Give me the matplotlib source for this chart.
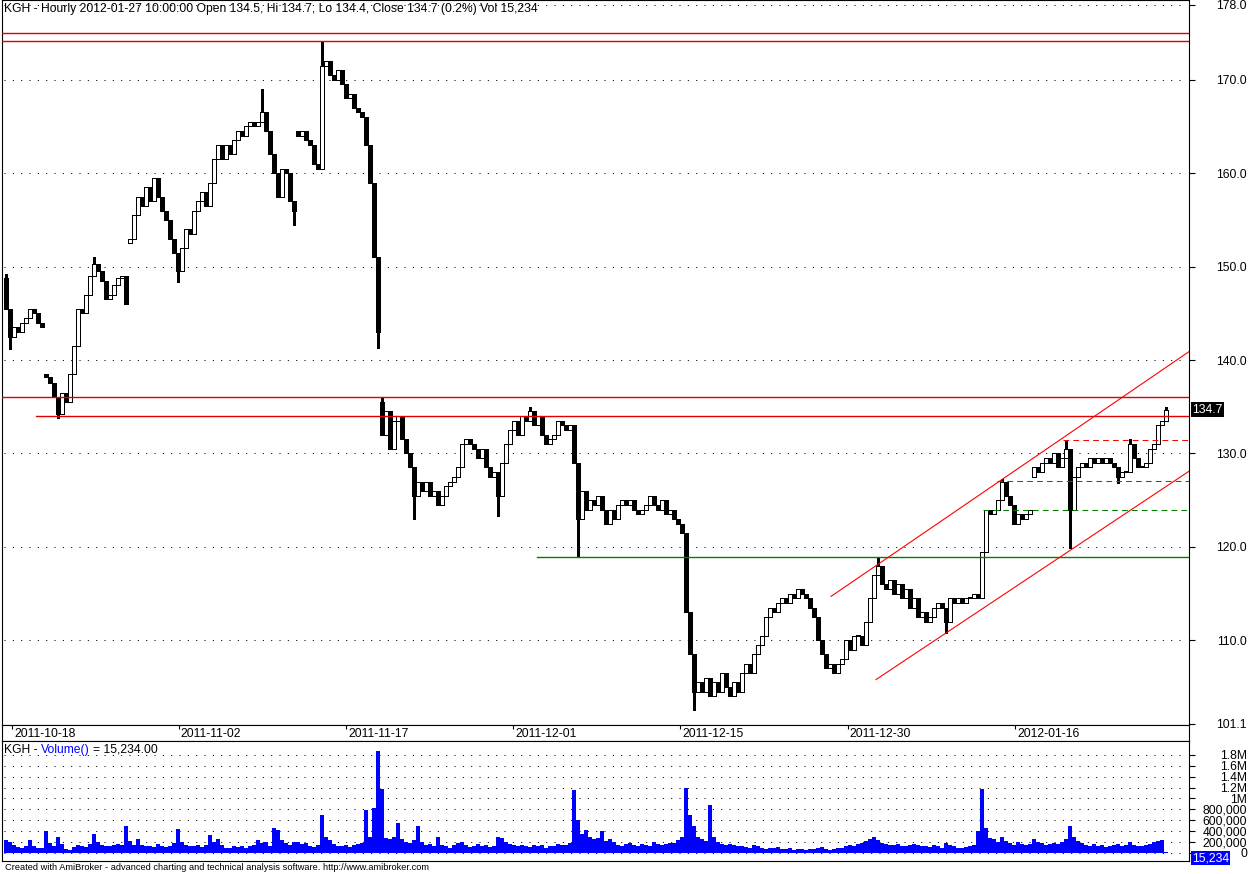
import numpy as np
import matplotlib
matplotlib.use("Agg")
import matplotlib.pyplot as plt
import matplotlib.transforms as mtransforms

plt.rcParams['font.family'] = ['Liberation Sans', 'DejaVu Sans']

# price closes, one candle per ~2 hourly bars (KGH, 2011-10-18 .. 2012-01-27)
closes = [
    145.5, 142.5, 143.5, 143.0, 144.0, 144.5, 145.5, 145.0, 144.0, 143.5,
    138.2, 137.5, 136.0, 134.2, 136.5, 135.5, 138.5, 141.5, 145.5, 145.0,
    147.0, 149.0, 150.3, 149.5, 148.5, 146.5, 147.0, 148.0, 148.8, 149.0,
    146.0, 153.0, 155.5, 157.5, 156.5, 158.5, 157.0, 159.5, 157.5, 156.0,
    155.0, 153.0, 151.5, 149.5, 152.0, 154.0, 153.5, 156.0, 157.0, 158.0,
    156.5, 159.0, 161.5, 163.0, 161.5, 163.0, 162.0, 163.5, 164.5, 164.0,
    165.0, 165.5, 165.0, 165.5, 166.5, 164.5, 162.0, 160.0, 157.5, 160.5,
    160.0, 157.0, 156.0, 164.0, 164.5, 163.5, 163.0, 161.0, 160.5, 171.5,
    172.0, 170.5, 170.0, 171.0, 169.5, 168.0, 168.5, 167.0, 166.5, 166.0,
    163.0, 159.0, 151.0, 143.0, 132.0, 134.5, 130.5, 133.5, 134.0, 131.5,
    130.0, 128.5, 125.5, 127.0, 126.0, 127.0, 125.5, 126.0, 124.5, 125.5,
    126.5, 127.0, 127.5, 128.5, 131.0, 131.5, 131.0, 130.5, 129.5, 130.5,
    128.5, 127.5, 128.0, 125.5, 129.0, 131.0, 132.5, 133.5, 132.0, 134.0,
    133.5, 134.5, 133.0, 134.0, 132.0, 131.0, 131.5, 132.0, 133.5, 133.0,
    132.5, 133.0, 129.0, 123.0, 126.0, 124.0, 125.0, 124.5, 125.5, 124.0,
    122.5, 124.0, 123.0, 124.5, 125.0, 124.5, 125.0, 124.0, 123.5, 124.0,
    124.5, 125.5, 124.5, 124.0, 125.0, 123.5, 124.0, 123.0, 122.5, 121.5,
    113.0, 108.5, 104.5, 105.5, 104.5, 106.0, 104.0, 105.5, 104.5, 106.5,
    105.0, 104.0, 105.5, 104.5, 106.5, 107.5, 106.5, 108.5, 109.5, 110.5,
    112.5, 113.5, 113.0, 114.0, 114.5, 114.0, 115.0, 114.5, 115.5, 115.0,
    114.5, 113.5, 112.5, 110.0, 108.5, 107.0, 107.5, 106.5, 107.5, 108.0,
    110.0, 109.0, 110.5, 110.5, 109.5, 112.0, 114.5, 117.0, 118.0, 116.0,
    115.5, 116.5, 115.0, 116.0, 114.5, 115.5, 113.5, 114.5, 112.5, 113.0,
    112.0, 112.5, 113.5, 114.0, 113.5, 112.0, 114.5, 114.0, 114.5, 114.0,
    114.5, 114.5, 115.0, 114.5, 119.5, 124.0, 123.5, 124.0, 125.0, 127.0,
    125.5, 124.5, 122.5, 123.5, 123.0, 123.5, 124.0, 128.5, 128.0, 129.0,
    129.5, 129.0, 130.0, 128.5, 129.5, 130.5, 124.0, 127.5, 128.5, 129.0,
    128.5, 129.5, 129.0, 129.5, 129.0, 129.5, 129.0, 128.5, 127.5, 128.0,
    128.0, 131.0, 129.5, 128.5, 128.5, 129.0, 130.5, 131.0, 133.0, 133.5,
    134.7]
first_open = 148.8
gap_opens = {10: 138.5, 31: 152.5, 73: 164.5, 94: 135.5, 257: 127.5}
spike_highs = {0: 149.2, 22: 151.0, 64: 169.0, 79: 174.2, 94: 136.0, 131: 135.0,
               218: 118.9, 249: 127.3, 265: 131.4, 281: 131.6, 290: 135.0}
spike_lows = {1: 141.2, 13: 133.8, 43: 148.3, 72: 154.5, 93: 141.3, 102: 123.0,
              123: 123.3, 143: 119.0, 172: 102.5, 235: 110.8, 266: 119.9, 278: 126.8}

# volume in thousands
volume_k = [
    240, 200, 150, 110, 90, 120, 245, 130, 90, 100,
    400, 180, 120, 300, 160, 80, 60, 110, 140, 130,
    110, 170, 355, 200, 150, 130, 120, 150, 170, 140,
    500, 220, 150, 250, 140, 120, 130, 110, 160, 120,
    110, 130, 180, 440, 200, 150, 130, 120, 140, 110,
    150, 335, 200, 260, 150, 100, 90, 120, 110, 130,
    100, 130, 150, 245, 180, 200, 120, 450, 420, 240,
    180, 150, 200, 210, 170, 180, 130, 110, 150, 700,
    300, 245, 160, 130, 120, 150, 110, 140, 170, 180,
    790, 300, 825, 1870, 1170, 280, 250, 300, 550, 250,
    200, 180, 240, 500, 200, 150, 170, 130, 300, 150,
    120, 100, 140, 180, 200, 150, 110, 130, 160, 120,
    150, 110, 130, 300, 280, 200, 170, 140, 120, 150,
    130, 110, 150, 120, 140, 100, 130, 120, 160, 140,
    150, 180, 1150, 600, 350, 420, 300, 250, 280, 400,
    220, 250, 200, 150, 130, 160, 180, 140, 120, 170,
    150, 130, 200, 170, 140, 160, 180, 190, 230, 300,
    1200, 700, 500, 300, 250, 220, 880, 300, 200, 160,
    140, 170, 150, 130, 120, 110, 100, 140, 120, 90,
    80, 100, 90, 110, 80, 70, 90, 60, 80, 70,
    60, 80, 70, 90, 110, 80, 60, 70, 90, 100,
    130, 150, 120, 160, 180, 220, 260, 300, 240, 180,
    160, 150, 140, 170, 130, 120, 150, 160, 140, 130,
    120, 110, 150, 130, 100, 180, 140, 120, 100, 90,
    110, 130, 150, 400, 1170, 450, 280, 250, 200, 300,
    220, 180, 150, 200, 170, 140, 160, 250, 200, 180,
    150, 170, 190, 160, 200, 250, 500, 300, 220, 180,
    150, 130, 160, 120, 140, 110, 130, 150, 170, 120,
    140, 200, 150, 130, 120, 140, 160, 200, 220, 230,
    15.234]

date_pos = [1.5, 43.2, 85.0, 126.75, 168.5, 210.4, 252.3]
date_labels = ['2011-10-18', '2011-11-02', '2011-11-17', '2011-12-01',
               '2011-12-15', '2011-12-30', '2012-01-16']

price_ticks = [178.0, 170.0, 160.0, 150.0, 140.0, 130.0, 120.0, 110.0, 101.1]
vol_ticks = [0, 200000, 400000, 600000, 800000, 1000000, 1200000, 1400000, 1600000, 1800000]
vol_labels = ['0', '200,000', '400,000', '600,000', '800,000', '1M', '1.2M', '1.4M', '1.6M', '1.8M']

# drawn support / resistance lines: level and first bar
solid_red_levels = [175.0, 174.2, 136.0, 134.0]
solid_red_starts = [-1.0, -1.0, -1.0, 7.5]
green_level, green_start = 118.9, 132.75
dash_green_levels = [127.1, 124.0]
dash_green_starts = [247.7, 244.2]
dash_red_level, dash_red_start = 131.4, 264.3
channel_upper_x, channel_upper_y = [206.25, 295.75], [114.7, 140.9]
channel_lower_x, channel_lower_y = [217.5, 295.75], [105.8, 128.1]

W, H = 1250, 874
fig = plt.figure(figsize=(W / 100, H / 100), dpi=100)


def px_axes(x0, y0, x1, y1):
    return fig.add_axes([x0 / W, 1 - y1 / H, (x1 - x0) / W, (y1 - y0) / H])


ax = px_axes(2, 0, 1189, 725)
dax = px_axes(2, 725, 1189, 741)
vax = px_axes(2, 741, 1189, 861)

n = len(closes)
assert len(volume_k) == n
x = np.arange(n)
opens = [first_open] + closes[:-1]
for i, o in gap_opens.items():
    opens[i] = o
highs = [max(o, c) for o, c in zip(opens, closes)]
lows = [min(o, c) for o, c in zip(opens, closes)]
for i, v in spike_highs.items():
    highs[i] = v
for i, v in spike_lows.items():
    lows[i] = v

opens = np.array(opens)
closes_a = np.array(closes)
up = closes_a >= opens

# candles
ax.vlines(x, lows, highs, color='black', lw=0.75, zorder=2, antialiased=False)
body_bottom = np.minimum(opens, closes_a)
body_h = np.maximum(np.abs(closes_a - opens), 0.12)
ax.bar(x[up], body_h[up], bottom=body_bottom[up], width=0.8, color='white',
       edgecolor='black', linewidth=0.6, zorder=3, antialiased=False)
ax.bar(x[~up], body_h[~up], bottom=body_bottom[~up], width=0.8, color='black',
       edgecolor='black', linewidth=0.6, zorder=3, antialiased=False)

xmax = 295.75
for lvl, st in zip(solid_red_levels, solid_red_starts):
    ax.plot([st, xmax], [lvl, lvl], color='#e00000', lw=1.0, zorder=4)
ax.plot([green_start, xmax], [green_level, green_level], color='#008000', lw=1.0, zorder=4)
for lvl, st in zip(dash_green_levels, dash_green_starts):
    ax.plot([st, xmax], [lvl, lvl], color='#008000', lw=0.75, ls=(0, (5.5, 4)), zorder=4)
ax.plot([dash_red_start, xmax], [dash_red_level, dash_red_level], color='#ff0000',
        lw=0.75, ls=(0, (5.5, 4)), zorder=4)
ax.plot(channel_upper_x, channel_upper_y, color='#ff0000', lw=0.8, zorder=4)
ax.plot(channel_lower_x, channel_lower_y, color='#ff0000', lw=0.8, zorder=4)

ax.set_xlim(-1.0, xmax)
ax.set_ylim(100.94, 178.535)
for p in price_ticks[:-1]:
    ax.axhline(p, xmin=0.002, xmax=0.995, color='black', lw=0.75, ls=(0, (1, 7)), zorder=1)

for a in (ax, dax, vax):
    for s in a.spines.values():
        s.set_linewidth(0.8)
        s.set_color('black')
    a.set_xticks([])

ax.yaxis.tick_right()
ax.set_yticks(price_ticks)
ax.set_yticklabels([f'{p:.1f}' for p in price_ticks])
ax.tick_params(axis='y', direction='out', length=4.3, width=0.8, pad=37.4, labelsize=8.7)
plt.setp(ax.get_yticklabels(), ha='right')

ax.text(0.0017, 0.988, 'KGH - Hourly 2012-01-27 10:00:00 Open 134.5, Hi 134.7, Lo 134.4, '
        'Close 134.7 (0.2%) Vol 15,234', transform=ax.transAxes, fontsize=8.7,
        va='center', ha='left')

tr = mtransforms.blended_transform_factory(ax.transAxes, ax.transData)
ax.text(1.0025, closes[-1], f'{closes[-1]:.1f}', transform=tr, color='white', fontsize=8.7,
        va='center', ha='left',
        bbox=dict(boxstyle='square,pad=0.12', fc='black', ec='none'))

# date strip
dax.set_xlim(-1.0, xmax)
dax.set_ylim(0, 1)
dax.set_yticks([])
dax.vlines(date_pos, 0.72, 1.0, color='black', lw=0.8)
for p, lab in zip(date_pos, date_labels):
    dax.text(p + 0.5, 0.42, lab, fontsize=8.7, va='center', ha='left')

# volume
vol = np.array(volume_k) * 1000
vax.bar(x, vol, width=0.85, color='#0000ff', linewidth=0, zorder=2)
vax.set_xlim(-1.0, xmax)
vax.set_ylim(-147000, 2055000)
for v in vol_ticks:
    vax.axhline(v, xmin=0.002, xmax=0.995, color='black', lw=0.75, ls=(0, (1, 7)), zorder=1)
vax.yaxis.tick_right()
vax.set_yticks(vol_ticks)
vax.set_yticklabels(vol_labels)
vax.tick_params(axis='y', direction='out', length=4.3, width=0.8, pad=37.4, labelsize=8.7)
plt.setp(vax.get_yticklabels(), ha='right')

t1 = vax.text(0.0017, 0.925, 'KGH -', transform=vax.transAxes, fontsize=8.7, va='center')
t2 = vax.annotate('Volume()', xy=(1, 0), xycoords=t1, xytext=(2.4, 0),
                  textcoords='offset points', fontsize=8.7, color='#0000ff', va='bottom')
vax.annotate('= 15,234.00', xy=(1, 0), xycoords=t2, xytext=(2.4, 0),
             textcoords='offset points', fontsize=8.7, va='bottom')

vtr = mtransforms.blended_transform_factory(vax.transAxes, vax.transData)
vax.text(1.0025, vol[-1], '15,234', transform=vtr, color='white', fontsize=8.7,
         va='top', ha='left', zorder=5,
         bbox=dict(boxstyle='square,pad=0.08', fc='#0000ff', ec='none'))

fig.text(5 / W, 1 - 868 / H, 'Created with AmiBroker - advanced charting and technical '
         'analysis software. http://www.amibroker.com', fontsize=6.7, va='center', ha='left')

fig.savefig('out.png', dpi=100)
